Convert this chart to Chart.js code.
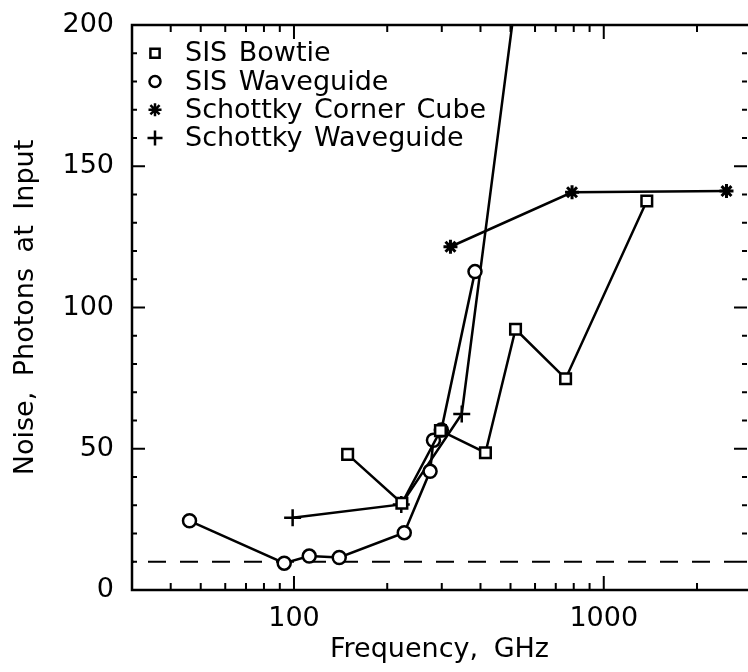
<!DOCTYPE html>
<html><head><meta charset="utf-8">
<script src="https://cdn.jsdelivr.net/npm/chart.js@4/dist/chart.umd.min.js"></script>
<style>
html,body{margin:0;padding:0;background:#fff;overflow:hidden}
#wrap{width:748px;height:672px;overflow:hidden;position:relative;background:#fff}
canvas{display:block}
</style></head><body>
<div id="wrap"><canvas id="c" width="758" height="672"></canvas></div>
<script>
// ---- data ----
const seriesNames = ['SIS Bowtie', 'SIS Waveguide', 'Schottky Corner Cube', 'Schottky Waveguide'];

const sisBowtieFreq  = [149, 223, 297, 415, 519, 753, 1377];
const sisBowtieNoise = [48, 30.7, 56.4, 48.6, 92.3, 74.8, 137.7];

const sisWaveguideFreq  = [46, 93, 112, 140, 227, 275, 282, 299, 384];
const sisWaveguideNoise = [24.5, 9.5, 12, 11.5, 20.3, 42, 53, 56.6, 112.7];

const schottkyCornerFreq  = [320, 790, 2490];
const schottkyCornerNoise = [121.5, 140.8, 141.2];

const schottkyWaveguideFreq  = [99, 222, 348, 580];
const schottkyWaveguideNoise = [25.6, 30.3, 62.3, 250];

const quantumLimit = 10;
const xRange = [30, 2900];
const yRange = [0, 200];

const xLabelTicks = [100, 1000];
const xMinorTicks = [40, 50, 60, 70, 80, 90, 200, 300, 400, 500, 600, 700, 800, 900, 2000];
const yMajorTicks = [0, 50, 100, 150, 200];
const yMinorTicks = [10, 20, 30, 40, 60, 70, 80, 90, 110, 120, 130, 140, 160, 170, 180, 190];

const xTitle = 'Frequency, GHz';
const yTitle = 'Noise, Photons at Input';

// ---- helpers ----
const zip = (xs, ys) => xs.map((x, i) => ({x, y: ys[i]}));
const FONT = '"DejaVu Sans", sans-serif';

function seriesDataset(name, xs, ys, style, radius, bw) {
  return {
    label: name, data: zip(xs, ys), showLine: true,
    borderColor: '#000', borderWidth: 2.5,
    pointStyle: style, pointRadius: radius, pointBorderWidth: bw,
    pointBorderColor: '#000', pointBackgroundColor: '#fff'
  };
}

const datasets = [
  seriesDataset(seriesNames[0], sisBowtieFreq, sisBowtieNoise, 'rect', 7.5, 2.5),
  seriesDataset(seriesNames[1], sisWaveguideFreq, sisWaveguideNoise, 'circle', 6.5, 2.5),
  seriesDataset(seriesNames[2], schottkyCornerFreq, schottkyCornerNoise, 'star', 7, 3),
  seriesDataset(seriesNames[3], schottkyWaveguideFreq, schottkyWaveguideNoise, 'cross', 8.5, 2.5),
  {
    label: 'limit', data: zip(xRange, [quantumLimit, quantumLimit]), showLine: true,
    borderColor: '#000', borderWidth: 2, borderDash: [18, 14], borderDashOffset: -16, pointRadius: 0
  }
];

const spacingPlugin = {
  id: 'spacing',
  beforeDraw(chart) { try { chart.ctx.wordSpacing = '7px'; } catch (e) {} }
};

const framePlugin = {
  id: 'frame',
  afterDatasetsDraw(chart) {
    const {ctx, chartArea: a, scales: {x, y}} = chart;
    ctx.save();
    ctx.strokeStyle = '#000';
    ctx.setLineDash([]);
    ctx.lineWidth = 2.5;
    ctx.beginPath();
    ctx.moveTo(a.right + 2, a.top); ctx.lineTo(a.left, a.top);
    ctx.lineTo(a.left, a.bottom); ctx.lineTo(a.right + 2, a.bottom);
    ctx.stroke();
    ctx.beginPath();
    ctx.lineWidth = 2;
    const xt = (v, len) => {
      const p = x.getPixelForValue(v);
      ctx.moveTo(p, a.bottom); ctx.lineTo(p, a.bottom - len);
      ctx.moveTo(p, a.top); ctx.lineTo(p, a.top + len);
    };
    const yt = (v, len) => {
      const p = y.getPixelForValue(v);
      ctx.moveTo(a.left, p); ctx.lineTo(a.left + len, p);
      ctx.moveTo(a.right, p); ctx.lineTo(a.right - len, p);
    };
    xLabelTicks.forEach(v => xt(v, 14));
    xMinorTicks.forEach(v => xt(v, 7));
    yMajorTicks.forEach(v => yt(v, 13));
    yMinorTicks.forEach(v => yt(v, 5));
    ctx.stroke();
    ctx.restore();
  }
};

const legendPlugin = {
  id: 'insideLegend',
  afterDraw(chart) {
    const {ctx, chartArea: a} = chart;
    ctx.save();
    try { ctx.wordSpacing = '3px'; } catch (e) {}
    ctx.font = '27px ' + FONT;
    ctx.textAlign = 'left';
    ctx.textBaseline = 'middle';
    const rowH = 28.25;
    seriesNames.forEach((name, i) => {
      const ds = chart.data.datasets[i];
      const cy = a.top + rowH * (i + 1);
      const cx = a.left + 23;
      ctx.strokeStyle = '#000';
      ctx.fillStyle = '#fff';
      ctx.lineWidth = 2.5;
      const r = ds.pointStyle === 'cross' ? 7.5 : (ds.pointStyle === 'rect' ? 6.5 : (ds.pointStyle === 'star' ? 6.5 : 5.5));
      Chart.helpers.drawPoint(ctx, {pointStyle: ds.pointStyle, radius: r, borderWidth: 2.5, rotation: 0}, cx, cy);
      ctx.fillStyle = '#000';
      ctx.fillText(name, a.left + 53, cy + 1);
    });
    ctx.restore();
  }
};

new Chart(document.getElementById('c'), {
  type: 'scatter',
  data: {datasets},
  options: {
    responsive: false,
    animation: false,
    events: [],
    layout: {padding: {top: 25, right: 8, left: 0, bottom: 0}},
    plugins: {legend: {display: false}, tooltip: {enabled: false}},
    scales: {
      x: {
        type: 'logarithmic', min: xRange[0], max: xRange[1],
        grid: {display: false}, border: {display: false},
        afterFit: s => { s.height = 82; s.paddingLeft = 0; s.paddingRight = 0; },
        afterBuildTicks: s => { s.ticks = xLabelTicks.map(v => ({value: v})); },
        ticks: {
          autoSkip: false, maxRotation: 0, padding: 5, color: '#000',
          font: {family: FONT, size: 27},
          callback: v => String(v)
        },
        title: {display: true, text: xTitle, color: '#000',
                font: {family: FONT, size: 27}, padding: {top: 0, bottom: 6}}
      },
      y: {
        type: 'linear', min: yRange[0], max: yRange[1],
        grid: {display: false}, border: {display: false},
        afterFit: s => { s.width = 132; s.paddingTop = 0; s.paddingBottom = 0; },
        afterBuildTicks: s => { s.ticks = yMajorTicks.map(v => ({value: v})); },
        ticks: {padding: 10, color: '#000', font: {family: FONT, size: 27}},
        title: {display: true, text: yTitle, color: '#000',
                font: {family: FONT, size: 27}, padding: {top: 10, bottom: 0}}
      }
    }
  },
  plugins: [spacingPlugin, framePlugin, legendPlugin]
});
</script>
</body></html>
